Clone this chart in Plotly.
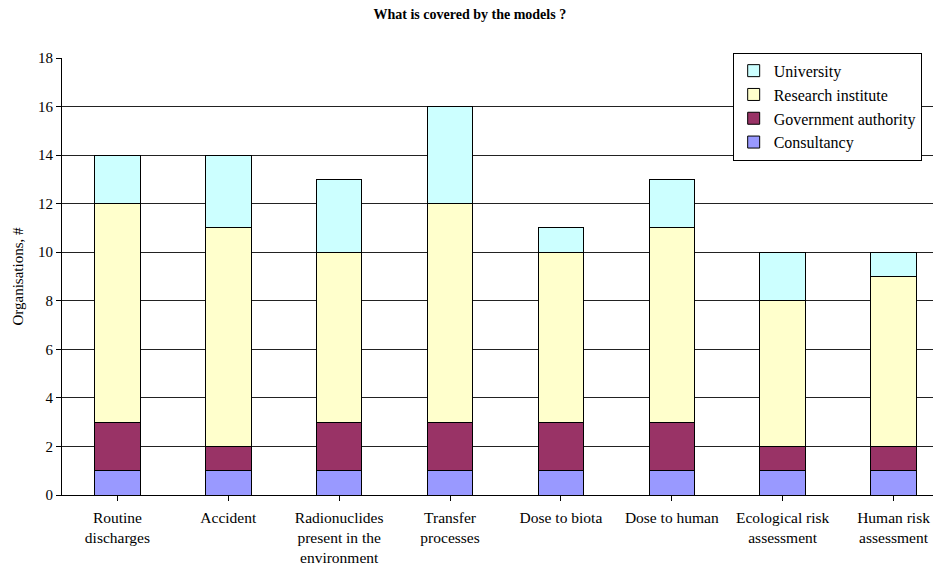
import plotly.graph_objects as go

categories = ["Routine<br>discharges", "Accident", "Radionuclides<br>present in the<br>environment",
              "Transfer<br>processes", "Dose to biota", "Dose to human",
              "Ecological risk<br>assessment", "Human risk<br>assessment"]
consultancy = [1, 1, 1, 1, 1, 1, 1, 1]
government = [2, 1, 2, 2, 2, 2, 1, 1]
research = [9, 9, 7, 9, 7, 8, 6, 7]
university = [2, 3, 3, 4, 1, 2, 2, 1]

series = [
    ("Consultancy", consultancy, "#9999FF"),
    ("Government authority", government, "#993366"),
    ("Research institute", research, "#FFFFCC"),
    ("University", university, "#CCFFFF"),
]

FONT = "Liberation Serif, Times New Roman, serif"

fig = go.Figure()
for name, vals, col in series:
    fig.add_trace(go.Bar(
        x=list(range(len(categories))), y=vals, name=name,
        marker=dict(color=col, line=dict(color="black", width=1)),
        width=0.41,
    ))

# page body has an 8px margin, so the figure is sized/offset to compensate
fig.update_layout(
    width=933, height=558,
    barmode="stack",
    plot_bgcolor="white", paper_bgcolor="white",
    margin=dict(l=54, r=0, t=50, b=71, autoexpand=False),
    font=dict(family=FONT, size=15, color="black"),
    title=dict(text="<b>What is covered by the models ?</b>", x=0.495, xref="container",
               xanchor="center", y=0.989, yanchor="middle", font=dict(family=FONT, size=14)),
    showlegend=True,
    legend=dict(traceorder="reversed", x=0.763, y=1.012, xanchor="left", yanchor="top",
                bordercolor="black", borderwidth=1, bgcolor="white",
                font=dict(family=FONT, size=16), itemwidth=30,
                tracegroupgap=0),
    xaxis=dict(range=[-0.5, 7.428], tickmode="array",
               tickvals=list(range(len(categories))), ticktext=categories,
               tickson="boundaries", ticks="outside", ticklen=5, tickcolor="black",
               showline=True, linecolor="black", linewidth=1, showgrid=False,
               ticklabelstandoff=3,
               tickfont=dict(family=FONT, size=15.5), zeroline=False, automargin=False),
    yaxis=dict(range=[0, 18], dtick=2, ticks="outside", ticklen=5, tickcolor="black",
               showline=True, linecolor="black", linewidth=1,
               showgrid=True, gridcolor="#222", gridwidth=1, zeroline=False,
               automargin=False,
               title=dict(text="Organisations, #", font=dict(family=FONT, size=15), standoff=10),
               tickfont=dict(family=FONT, size=15)),
)

fig.write_html("out.html")
